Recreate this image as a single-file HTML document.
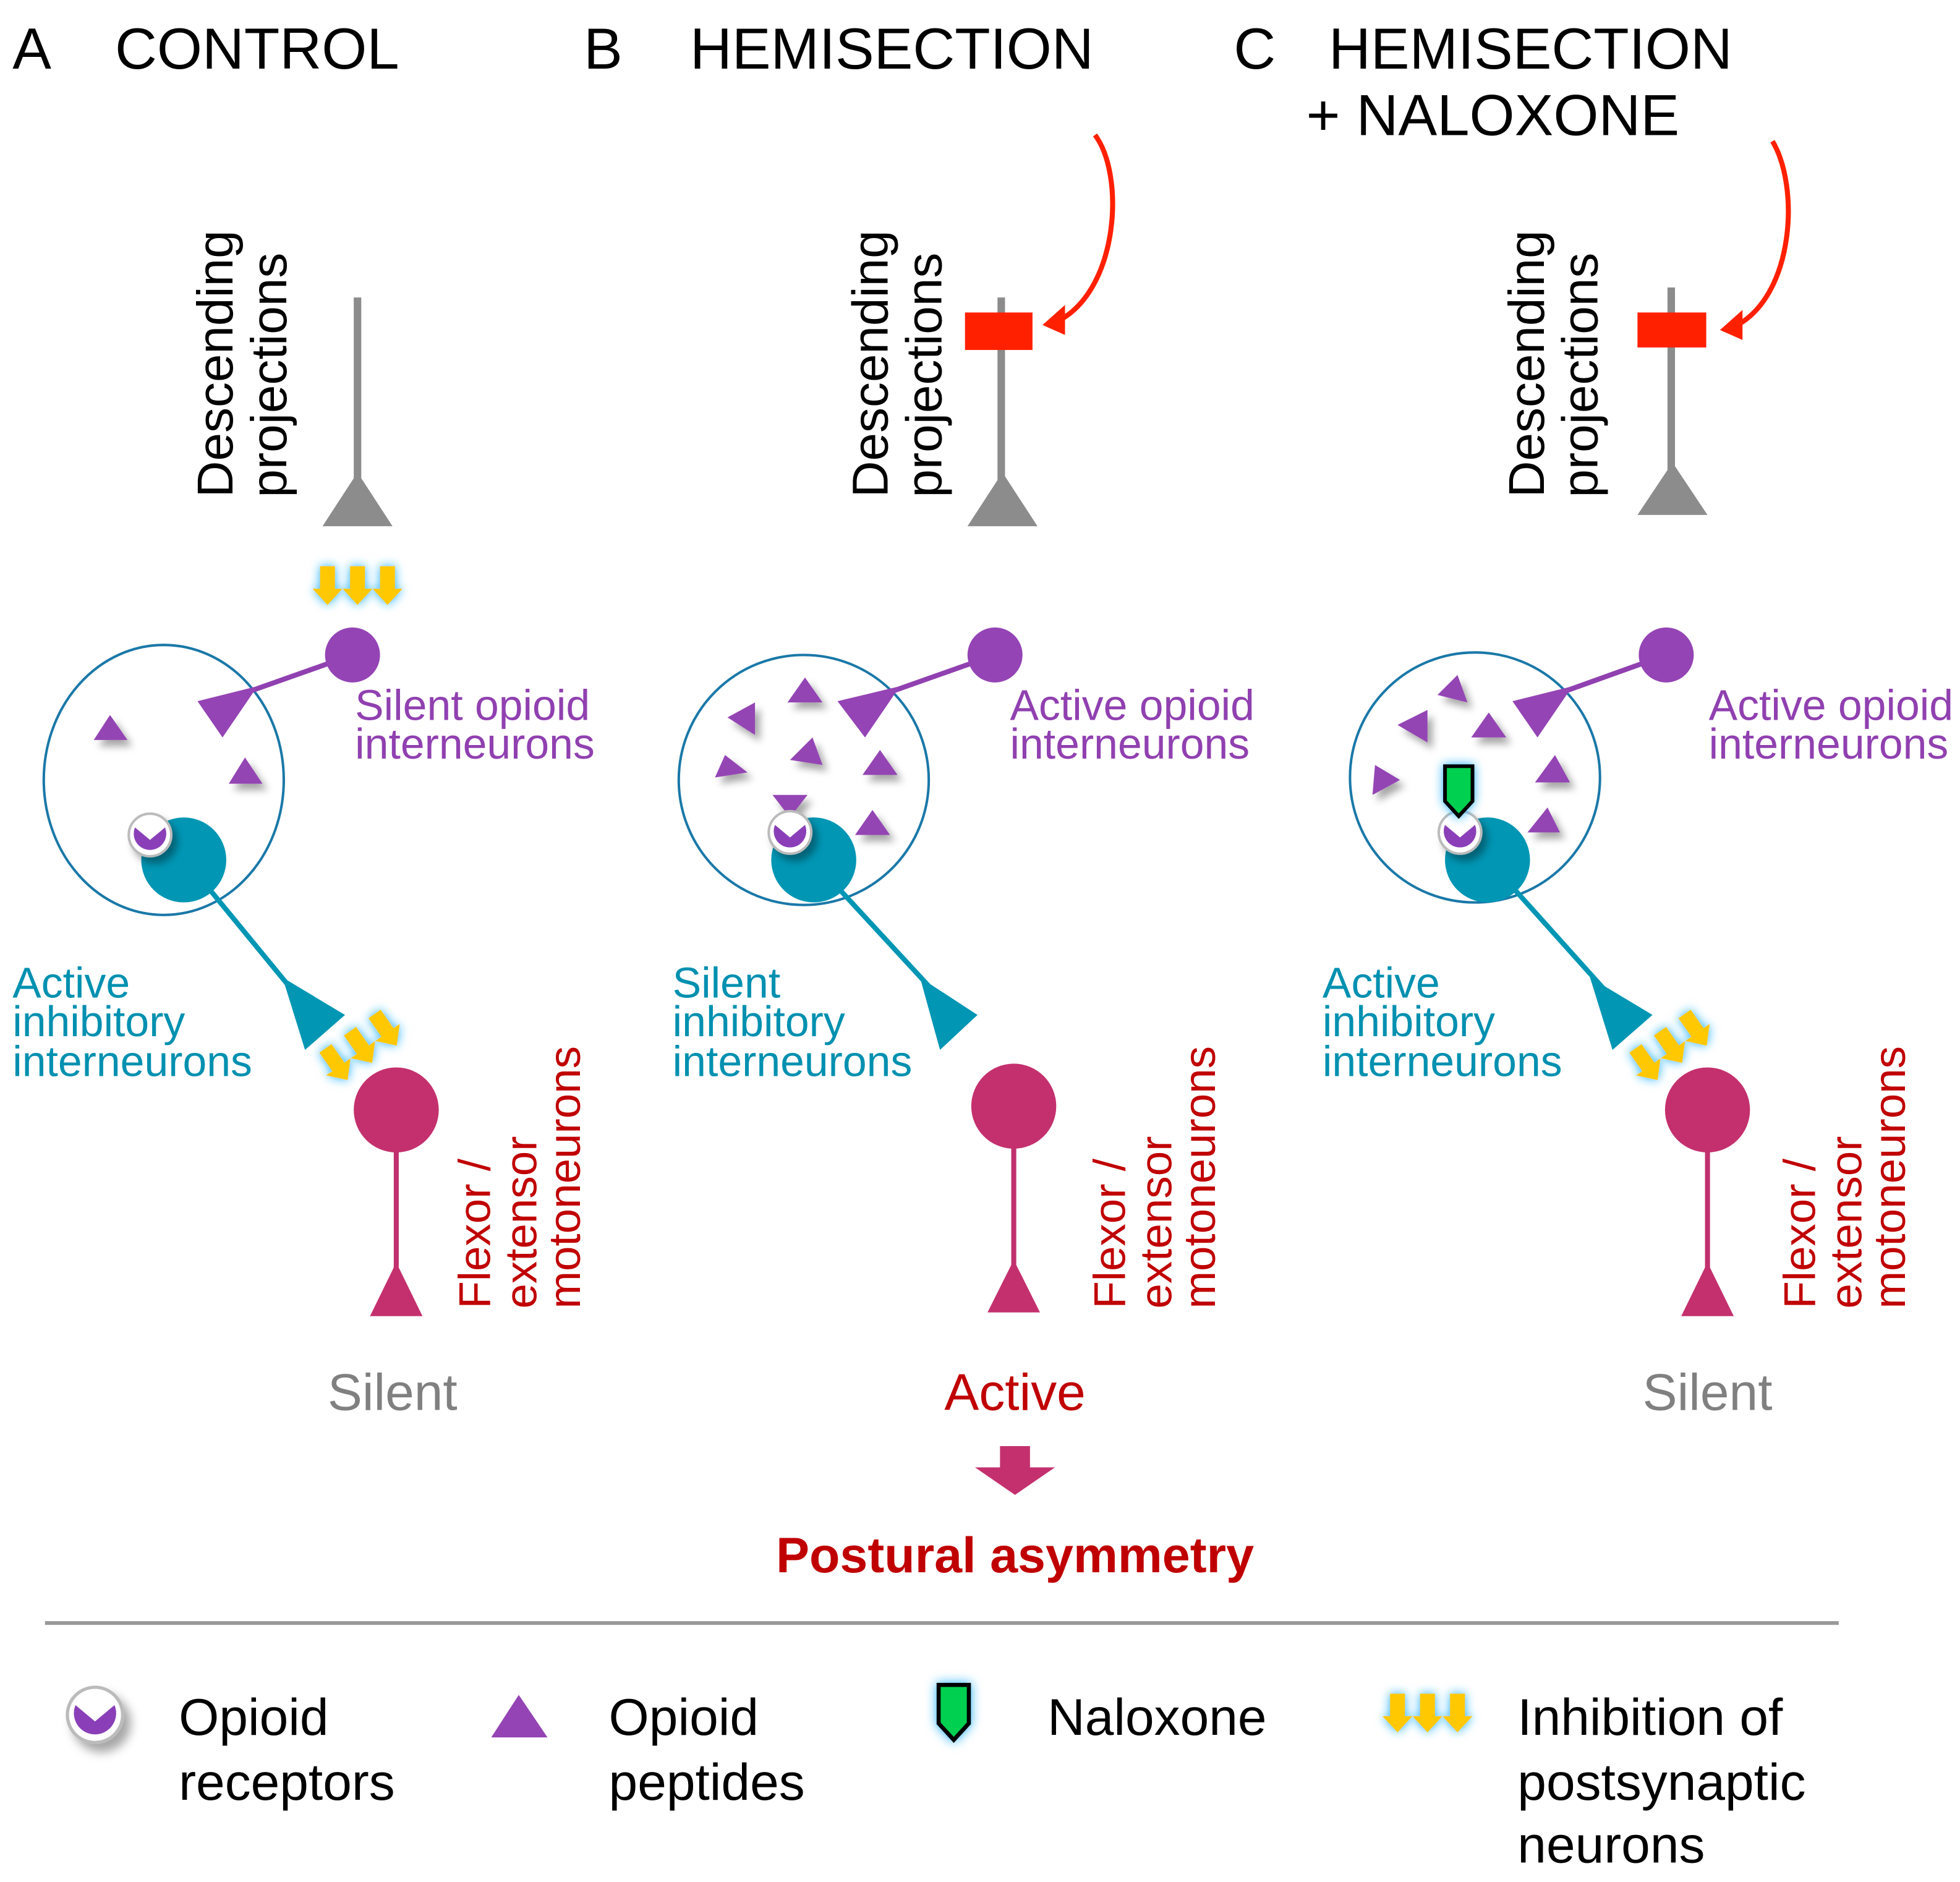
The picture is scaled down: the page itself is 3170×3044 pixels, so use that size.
<!DOCTYPE html>
<html><head><meta charset="utf-8"><style>
html,body{margin:0;padding:0;background:#fff;}
svg{display:block;}
text{font-family:"Liberation Sans",sans-serif;}
</style></head><body>
<svg width="3170" height="3044" viewBox="0 0 1568 1505.7" xmlns="http://www.w3.org/2000/svg">
<defs>
<filter id="sh" x="-50%" y="-50%" width="200%" height="200%"><feDropShadow dx="4" dy="5" stdDeviation="3" flood-color="#000" flood-opacity="0.35"/></filter>
<filter id="glow" x="-50%" y="-50%" width="200%" height="200%"><feGaussianBlur in="SourceAlpha" stdDeviation="4" result="b"/><feFlood flood-color="#20b0ff"/><feComposite in2="b" operator="in" result="g"/><feMerge><feMergeNode in="g"/><feMergeNode in="SourceGraphic"/></feMerge></filter>
<g id="rec"><circle r="17" fill="#fff" stroke="#bbb" stroke-width="2" filter="url(#sh)"/><path d="M-12,-6 L0,4 L12,-6 A13,13 0 1 1 -12,-6 Z" fill="#8a3fb8"/></g>
<g id="yarr"><path d="M-6,0 h12 v18 h6 l-12,13 l-12,-13 h6 z" fill="#ffc800"/></g>
<g id="y3" filter="url(#glow)"><use href="#yarr" x="-24"/><use href="#yarr"/><use href="#yarr" x="24"/></g>
<g id="nal" filter="url(#glow)"><path d="M-11,-20 h22 v28 l-11,12 l-11,-12 z" fill="#00d050" stroke="#000" stroke-width="3"/></g>
</defs>

<g font-size="46.5" fill="#000">
<text x="10" y="55">A</text><text x="92" y="55">CONTROL</text>
<text x="467" y="55">B</text><text x="552" y="55">HEMISECTION</text>
<text x="987" y="55">C</text><text x="1063" y="55">HEMISECTION</text>
<text x="1045" y="108">+ NALOXONE</text>
</g>

<g font-size="40.5" fill="#000">
<text transform="translate(186,398) rotate(-90)">Descending</text>
<text transform="translate(229,398) rotate(-90)">projections</text>
<text transform="translate(710,398) rotate(-90)">Descending</text>
<text transform="translate(753,398) rotate(-90)">projections</text>
<text transform="translate(1235,398) rotate(-90)">Descending</text>
<text transform="translate(1278,398) rotate(-90)">projections</text>
</g>

<g fill="#8c8c8c">
<rect x="283" y="238" width="6" height="160"/><path d="M258,421 L314,421 L286,378 Z"/>
<rect x="798" y="238" width="6" height="160"/><path d="M774,421 L830,421 L802,378 Z"/>
<rect x="1334" y="230" width="6" height="160"/><path d="M1310,412 L1366,412 L1338,370 Z"/>
</g>
<rect x="772" y="250" width="54" height="30" fill="#ff2000"/>
<rect x="1310" y="250" width="55" height="28" fill="#ff2000"/>
<g fill="none" stroke="#ff2000" stroke-width="4">
<path d="M876,108 C900,140 895,230 848,256"/>
<path d="M1418,113 C1440,150 1435,235 1390,260"/>
</g>
<path d="M834,260 L852,244 L852,268 Z" fill="#ff2000"/>
<path d="M1376,264 L1394,248 L1394,272 Z" fill="#ff2000"/>

<use href="#y3" x="286" y="453"/>

<!-- Panel A -->
<ellipse cx="131" cy="624" rx="96" ry="108" fill="none" stroke="#1a78a8" stroke-width="2"/>
<path d="M282,524 L200,553" stroke="#9040b0" stroke-width="4"/>
<circle cx="282" cy="524" r="22" fill="#9444b4"/>
<path d="M158,561 L206,549 L178,590 Z" fill="#9444b4"/>
<g fill="#9444b4" filter="url(#sh)"><path d="M75,592 L102,592 L88,572 Z"/><path d="M183,627 L210,627 L196,606 Z"/></g>
<path d="M168,712 L232,790" stroke="#0096b4" stroke-width="4"/>
<circle cx="147" cy="688" r="34" fill="#0096b4"/>
<use href="#rec" x="120" y="668"/>
<path d="M226,782 L276,812 L244,840 Z" fill="#0096b4"/>
<use href="#y3" transform="translate(280,825) rotate(-35)"/>
<rect x="315" y="885" width="4" height="135" fill="#c0306e"/>
<circle cx="317" cy="888" r="34" fill="#c4306e"/>
<path d="M296,1053 L338,1053 L317,1010 Z" fill="#c4306e"/>

<!-- Panel B -->
<circle cx="643" cy="624" r="100" fill="none" stroke="#1a78a8" stroke-width="2"/>
<path d="M796,524 L714,553" stroke="#9040b0" stroke-width="4"/>
<circle cx="796" cy="524" r="22" fill="#9444b4"/>
<path d="M670,561 L720,549 L692,590 Z" fill="#9444b4"/>
<g fill="#9444b4" filter="url(#sh)">
<path d="M630,562 L658,562 L644,542 Z"/>
<path d="M582,574 L604,562 L604,588 Z"/>
<path d="M632,608 L658,612 L650,590 Z"/>
<path d="M572,622 L598,618 L580,604 Z"/>
<path d="M690,620 L718,620 L704,600 Z"/>
<path d="M618,636 L646,636 L632,654 Z"/>
<path d="M684,668 L712,668 L698,648 Z"/>
</g>
<path d="M672,712 L744,790" stroke="#0096b4" stroke-width="4"/>
<circle cx="651" cy="688" r="34" fill="#0096b4"/>
<use href="#rec" x="632" y="666"/>
<path d="M736,782 L782,812 L752,840 Z" fill="#0096b4"/>
<rect x="809" y="885" width="4" height="135" fill="#c0306e"/>
<circle cx="811" cy="885" r="34" fill="#c4306e"/>
<path d="M790,1050 L832,1050 L811,1008 Z" fill="#c4306e"/>

<!-- Panel C -->
<circle cx="1180" cy="622" r="100" fill="none" stroke="#1a78a8" stroke-width="2"/>
<path d="M1333,524 L1252,553" stroke="#9040b0" stroke-width="4"/>
<circle cx="1333" cy="524" r="22" fill="#9444b4"/>
<path d="M1210,561 L1258,549 L1230,590 Z" fill="#9444b4"/>
<g fill="#9444b4" filter="url(#sh)">
<path d="M1150,556 L1174,562 L1166,540 Z"/>
<path d="M1118,580 L1142,568 L1142,594 Z"/>
<path d="M1177,590 L1205,590 L1191,570 Z"/>
<path d="M1098,636 L1120,624 L1100,612 Z"/>
<path d="M1228,626 L1256,626 L1244,604 Z"/>
<path d="M1222,666 L1248,666 L1238,646 Z"/>
</g>
<path d="M1212,712 L1282,790" stroke="#0096b4" stroke-width="4"/>
<circle cx="1190" cy="688" r="34" fill="#0096b4"/>
<use href="#rec" x="1168" y="666"/>
<use href="#nal" x="1167" y="633"/>
<path d="M1272,782 L1322,812 L1290,840 Z" fill="#0096b4"/>
<use href="#y3" transform="translate(1328,825) rotate(-35)"/>
<rect x="1364" y="885" width="4" height="135" fill="#c0306e"/>
<circle cx="1366" cy="888" r="34" fill="#c4306e"/>
<path d="M1345,1053 L1387,1053 L1366,1010 Z" fill="#c4306e"/>

<g font-size="34.5" fill="#9040b0">
<text x="284" y="576">Silent opioid</text><text x="284" y="607">interneurons</text>
<text x="808" y="576">Active opioid</text><text x="808" y="607">interneurons</text>
<text x="1367" y="576">Active opioid</text><text x="1367" y="607">interneurons</text>
</g>
<g font-size="34.5" fill="#0090b0">
<text x="10" y="798">Active</text><text x="10" y="829">inhibitory</text><text x="10" y="861">interneurons</text>
<text x="538" y="798">Silent</text><text x="538" y="829">inhibitory</text><text x="538" y="861">interneurons</text>
<text x="1058" y="798">Active</text><text x="1058" y="829">inhibitory</text><text x="1058" y="861">interneurons</text>
</g>
<g font-size="36" fill="#c00000">
<text transform="translate(392,1047) rotate(-90)">Flexor /</text>
<text transform="translate(429,1047) rotate(-90)">extensor</text>
<text transform="translate(464,1047) rotate(-90)">motoneurons</text>
<text transform="translate(900,1047) rotate(-90)">Flexor /</text>
<text transform="translate(937,1047) rotate(-90)">extensor</text>
<text transform="translate(972,1047) rotate(-90)">motoneurons</text>
<text transform="translate(1452,1047) rotate(-90)">Flexor /</text>
<text transform="translate(1489,1047) rotate(-90)">extensor</text>
<text transform="translate(1524,1047) rotate(-90)">motoneurons</text>
</g>
<g font-size="41.5" text-anchor="middle">
<text x="314" y="1128" fill="#808080">Silent</text>
<text x="812" y="1128" fill="#c00000">Active</text>
<text x="1366" y="1128" fill="#808080">Silent</text>
</g>
<text x="812" y="1258" font-size="40" text-anchor="middle" fill="#c00000" font-weight="bold">Postural asymmetry</text>
<path d="M800,1157 h24 v17 h20 l-32,22 l-32,-22 h20 z" fill="#c4306e"/>

<rect x="36" y="1297" width="1435" height="3" fill="#999"/>

<use href="#rec" transform="translate(76,1372) scale(1.3)"/>
<path d="M393,1390 L438,1390 L415,1356 Z" fill="#9444b4"/>
<use href="#nal" transform="translate(763,1370) scale(1.1)"/>
<use href="#y3" x="1142" y="1355"/>
<g font-size="41.5" fill="#000">
<text x="143" y="1388">Opioid</text><text x="143" y="1440">receptors</text>
<text x="487" y="1388">Opioid</text><text x="487" y="1440">peptides</text>
<text x="838" y="1388">Naloxone</text>
<text x="1214" y="1388">Inhibition of</text><text x="1214" y="1440">postsynaptic</text><text x="1214" y="1490">neurons</text>
</g>
</svg>
</body></html>
